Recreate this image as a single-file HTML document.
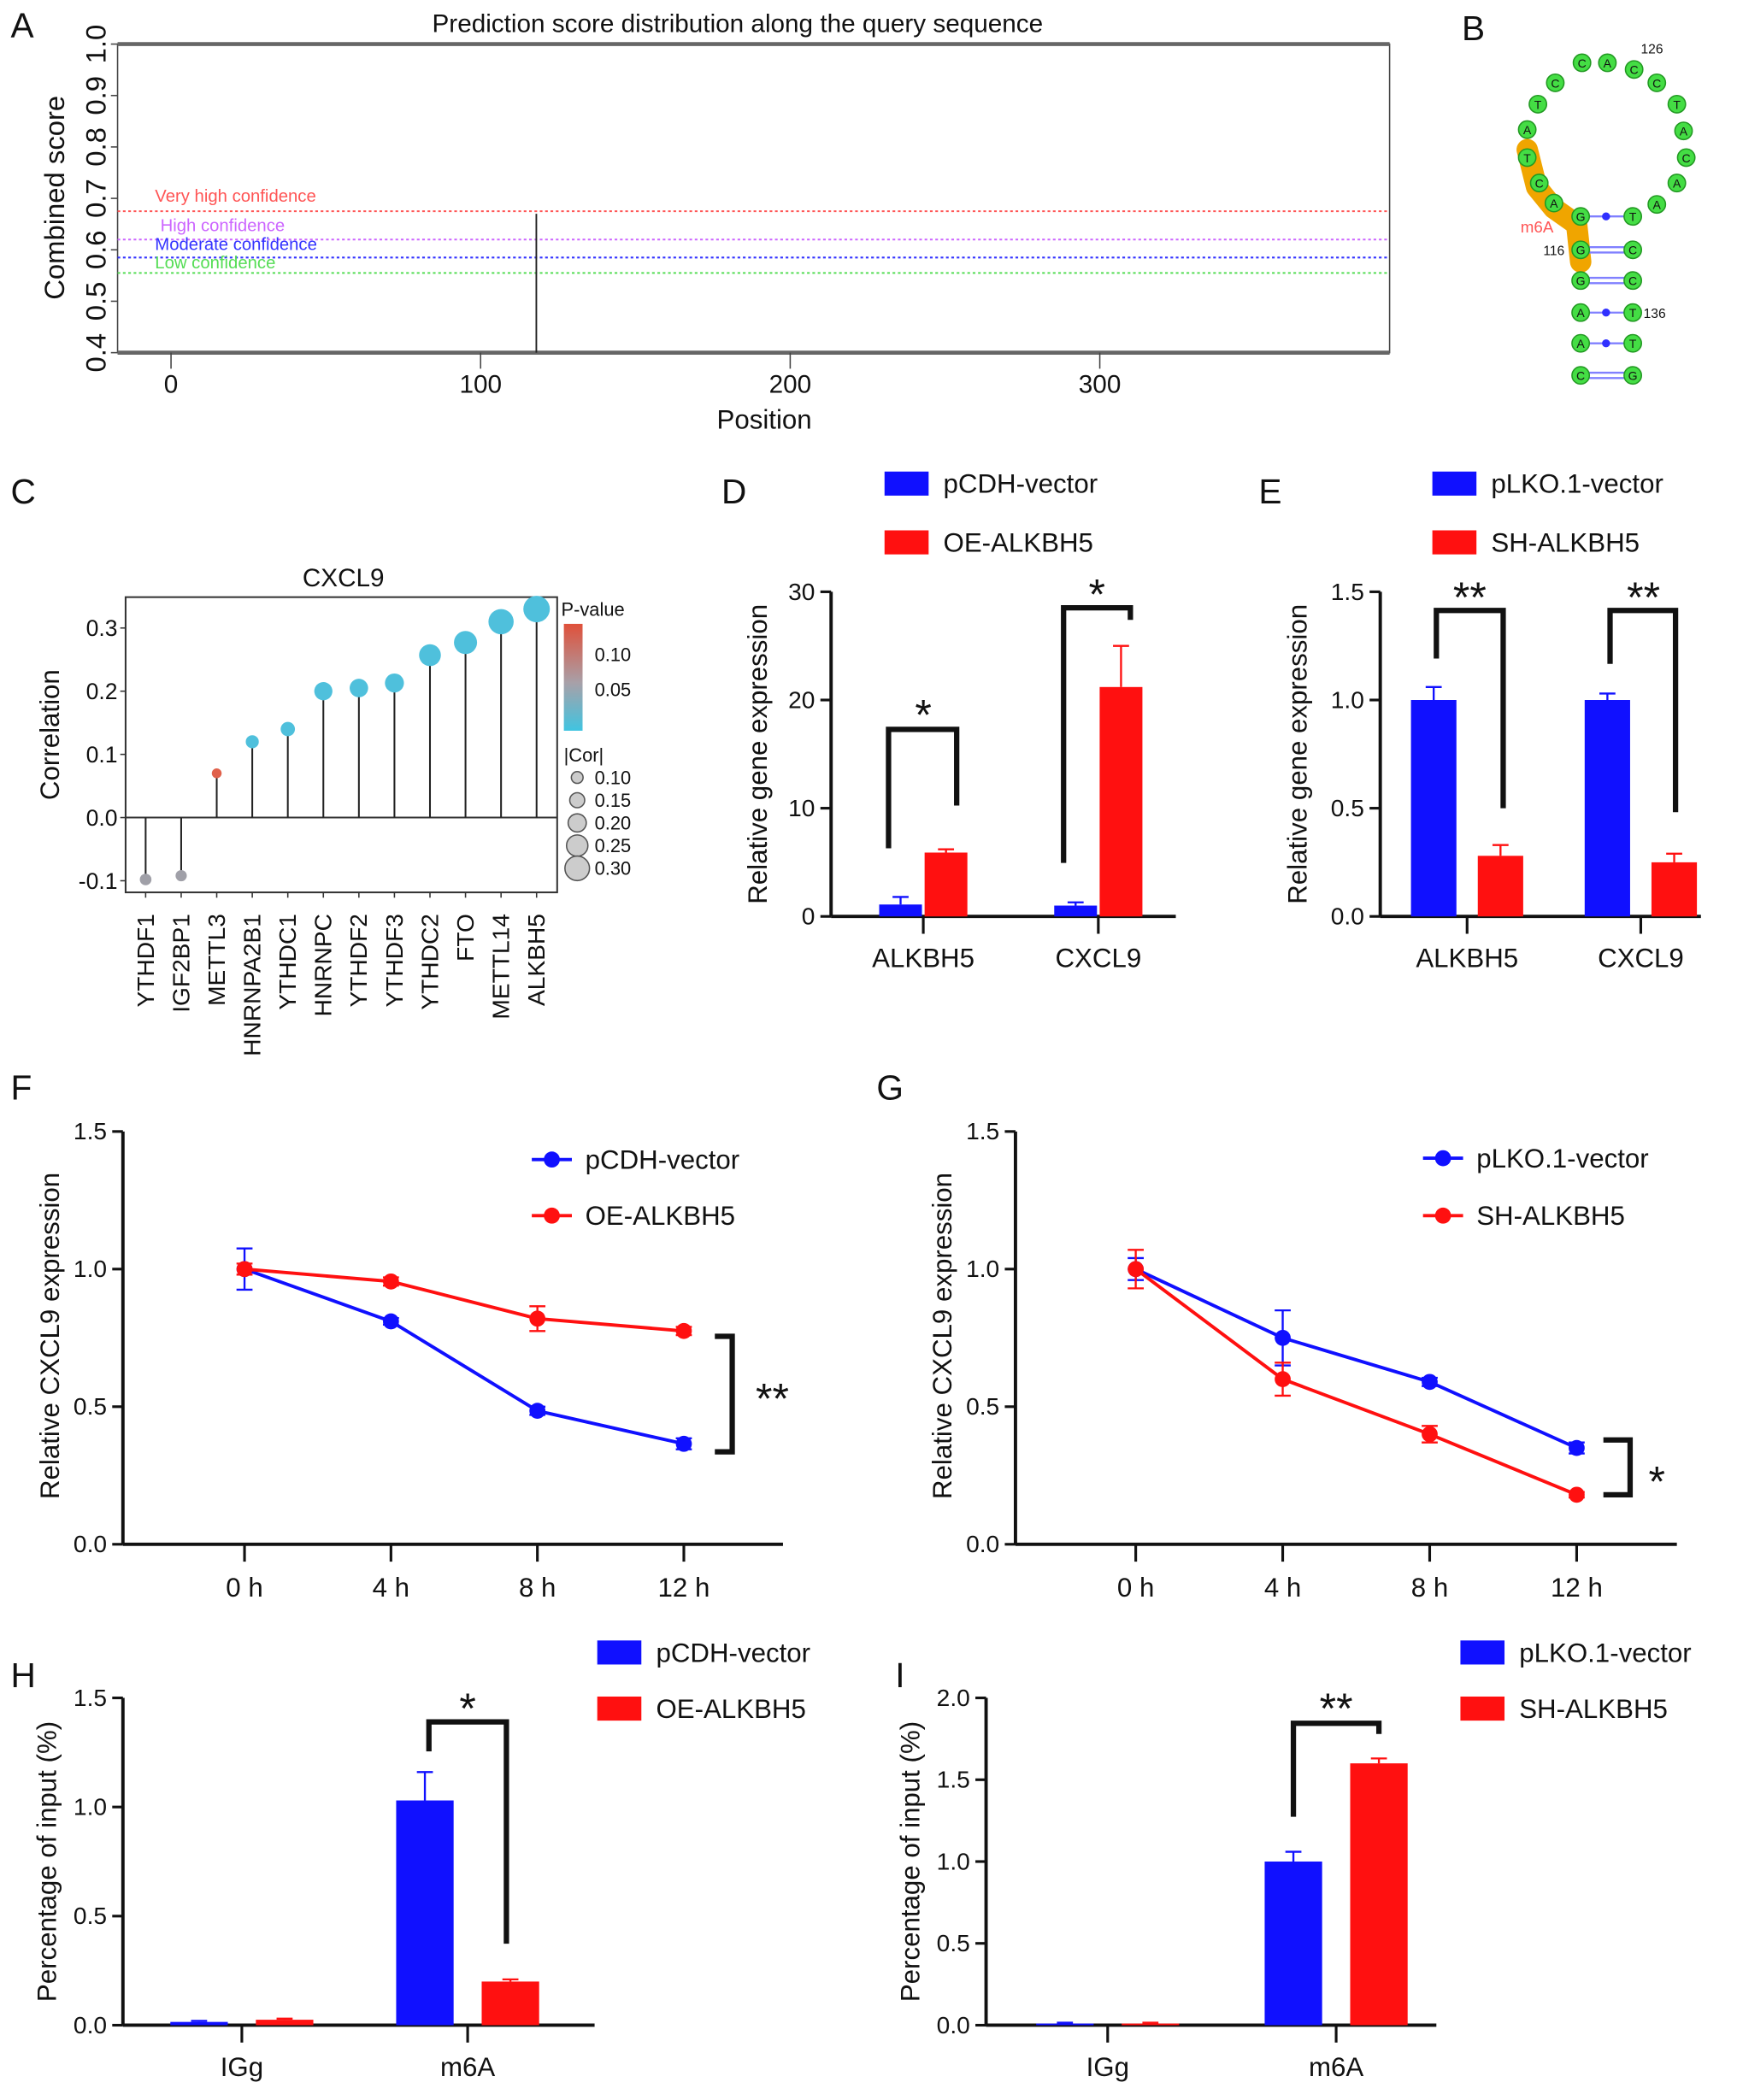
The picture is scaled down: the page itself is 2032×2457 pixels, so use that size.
<!DOCTYPE html>
<html><head><meta charset="utf-8"><style>
html,body{margin:0;padding:0;background:#fff;}
svg{display:block;font-family:"Liberation Sans",sans-serif;}
</style></head><body>
<svg id="fig" xmlns="http://www.w3.org/2000/svg" width="2032" height="2457" viewBox="0 0 1300 1572" preserveAspectRatio="none"></svg>
<script>
// ===== Data =====
const aThresholdNames = ['Very high confidence','High confidence','Moderate confidence','Low confidence'];
const aThresholdValues = [0.675, 0.62, 0.585, 0.555];
const aThresholdColors = ['#ff5555','#cc66ff','#3333ff','#55dd55'];
const aPeakPosition = [118];
const aPeakScore = [0.67];
const aXTicks = [0, 100, 200, 300];
const aYTicks = [0.4, 0.5, 0.6, 0.7, 0.8, 0.9, 1.0];

const cGenes = ['YTHDF1','IGF2BP1','METTL3','HNRNPA2B1','YTHDC1','HNRNPC','YTHDF2','YTHDF3','YTHDC2','FTO','METTL14','ALKBH5'];
const cCorr = [-0.098,-0.092,0.07,0.12,0.14,0.2,0.205,0.213,0.257,0.277,0.31,0.33];
const cPval = [0.06,0.07,0.13,0.01,0.01,0.0,0.0,0.0,0.0,0.0,0.0,0.0];
const cYTicks = [-0.1, 0.0, 0.1, 0.2, 0.3];
const cSizeLegend = [0.10, 0.15, 0.20, 0.25, 0.30];

const barCats = ['ALKBH5','CXCL9'];
const dBlue = [1.1, 1.0];
const dBlueErr = [1.8, 1.3];
const dRed = [5.9, 21.2];
const dRedErr = [6.2, 25.0];
const dTicks = [0, 10, 20, 30];

const eBlue = [1.0, 1.0];
const eBlueErr = [1.06, 1.03];
const eRed = [0.28, 0.25];
const eRedErr = [0.33, 0.29];
const eTicks = [0.0, 0.5, 1.0, 1.5];

const timeHours = [0, 4, 8, 12];
const timeLabels = ['0 h','4 h','8 h','12 h'];
const lineTicks = [0.0, 0.5, 1.0, 1.5];
const fBlue = [1.0, 0.81, 0.485, 0.365];
const fBlueErr = [0.075, 0.012, 0.015, 0.02];
const fRed = [1.0, 0.955, 0.82, 0.775];
const fRedErr = [0.02, 0.015, 0.045, 0.015];
const gBlue = [1.0, 0.75, 0.59, 0.35];
const gBlueErr = [0.04, 0.1, 0.015, 0.02];
const gRed = [1.0, 0.60, 0.40, 0.18];
const gRedErr = [0.07, 0.06, 0.03, 0.01];

const ripCats = ['IGg','m6A'];
const hBlue = [0.015, 1.03];
const hBlueErr = [0.02, 1.16];
const hRed = [0.025, 0.2];
const hRedErr = [0.03, 0.21];
const hTicks = [0.0, 0.5, 1.0, 1.5];
const iBlue = [0.01, 1.0];
const iBlueErr = [0.015, 1.06];
const iRed = [0.01, 1.6];
const iRedErr = [0.015, 1.63];
const iTicks = [0.0, 0.5, 1.0, 1.5, 2.0];

const BLUE = '#1010ff', RED = '#ff1010';
// ===== Helpers =====
const svg = document.getElementById('fig');
const NS = 'http://www.w3.org/2000/svg';
function mk(tag, attrs, name, parent, txt) {
  const el = document.createElementNS(NS, tag);
  for (const k in attrs) el.setAttribute(k, attrs[k]);
  
  
  if (txt !== undefined) el.textContent = txt;
  (parent || svg).appendChild(el);
  return el;
}
function line(x1,y1,x2,y2,stroke,w,name,extra){return mk('line',Object.assign({x1,y1,x2,y2,stroke,'stroke-width':w},extra||{}),name);}
function text(x,y,t,size,name,extra){return mk('text',Object.assign({x,y,'font-size':size,fill:'#111'},extra||{}),name,null,t);}
function fmt(v,d){return v.toFixed(d);}

// ===== Panel A =====
const axL=88, axR=1040, axT=33, axB=264;
const yA = v => axB - (v-0.4)/0.6*(axB-axT);
const xA = p => 128 + p*2.317;
text(8,28,'A',26,'panel-label-a');
text(552,24,'Prediction score distribution along the query sequence',19,'panel-a-title',{'text-anchor':'middle'});
mk('rect',{x:axL,y:axT,width:axR-axL,height:axB-axT,fill:'none',stroke:'#444','stroke-width':1},'panel-a-frame');
line(axL,axT,axR,axT,'#666',3,'panel-a-top-border');
line(axL,axB,axR,axB,'#666',3,'panel-a-bottom-border');
aYTicks.forEach(v=>{
  line(axL-5,yA(v),axL,yA(v),'#444',1,'a-y-tick');
  text(79,yA(v),fmt(v,1),21,'a-y-tick-label',{'text-anchor':'middle',transform:`rotate(-90 79 ${yA(v)})`});
});
text(48,148,'Combined score',21,'a-y-axis-title',{'text-anchor':'middle',transform:'rotate(-90 48 148)'});
aXTicks.forEach(v=>{
  line(xA(v),axB,xA(v),axB+12,'#444',1,'a-x-tick');
  text(xA(v),294,String(v),19,'a-x-tick-label',{'text-anchor':'middle'});
});
text(572,321,'Position',20,'a-x-axis-title',{'text-anchor':'middle'});
aThresholdValues.forEach((v,i)=>{
  line(axL,yA(v),axR,yA(v),aThresholdColors[i],1.3,'threshold-line-'+i,{'stroke-dasharray':'2 2'});
});
const aLabelY=[151,173,187,201];
aThresholdNames.forEach((n,i)=>text(i==1?120:116,aLabelY[i],n,13,'threshold-label-'+i,{fill:aThresholdColors[i]}));
aPeakPosition.forEach((p,i)=>line(xA(p),yA(aPeakScore[i]),xA(p),axB,'#222',1.2,'score-peak-line'));

// ===== Panel B =====
text(1094,30,'B',26,'panel-label-b');
mk('path',{d:'M1143,112 L1150,140 L1163,156 L1180,168 L1183,196',stroke:'#f0a500','stroke-width':16,fill:'none','stroke-linecap':'round','stroke-linejoin':'round'},'m6a-highlight');
const pairs=[[162,'G','T','dot'],[187,'G','C','dbl'],[210,'G','C','dbl'],[234,'A','T','dot'],[257,'A','T','dot'],[281,'C','G','dbl']];
pairs.forEach(p=>{
  if(p[3]=='dot'){line(1188,p[0],1217,p[0],'#8080ff',1.5,'base-pair-bond');mk('circle',{cx:1202,cy:p[0],r:3,fill:'#3030ff'},'base-pair-dot');}
  else{line(1188,p[0]-2,1217,p[0]-2,'#8080ff',1.5,'base-pair-bond');line(1188,p[0]+2,1217,p[0]+2,'#8080ff',1.5,'base-pair-bond');}
});
const nts=[[1143,97,'A'],[1143,118,'T'],[1152,137,'C'],[1163,152,'A'],[1151,78,'T'],[1164,62,'C'],[1184,47,'C'],[1203,47,'A'],[1223,52,'C'],[1240,62,'C'],[1255,78,'T'],[1260,98,'A'],[1262,118,'C'],[1255,137,'A'],[1240,153,'A']];
pairs.forEach(p=>{nts.push([1183,p[0],p[1]]);nts.push([1222,p[0],p[2]]);});
nts.forEach(n=>{
  mk('circle',{cx:n[0],cy:n[1],r:6.5,fill:'#44dd44',stroke:'#229922','stroke-width':1},'nucleotide');
  text(n[0],n[1]+3.5,n[2],9,'nucleotide-letter',{'text-anchor':'middle'});
});
text(1228,40,'126',10,'position-126');
text(1155,191,'116',10,'position-116');
text(1230,238,'136',10,'position-136');
text(1138,174,'m6A',12,'m6a-label',{fill:'#ff5555'});

// ===== Panel C =====
const cL=94,cR=417,cT=447,cB=668;
const yC = v => 612 - v*473;
const xC = i => 109 + i*26.6;
text(8,377,'C',26,'panel-label-c');
text(257,439,'CXCL9',19,'panel-c-title',{'text-anchor':'middle'});
mk('rect',{x:cL,y:cT,width:cR-cL,height:cB-cT,fill:'none',stroke:'#333','stroke-width':1.3},'panel-c-frame');
line(cL,yC(0),cR,yC(0),'#333',1.3,'zero-line');
cYTicks.forEach(v=>{
  line(cL-4,yC(v),cL,yC(v),'#333',1,'c-y-tick');
  text(cL-6,yC(v)+6,fmt(v,1),17,'c-y-tick-label',{'text-anchor':'end'});
});
text(44,550,'Correlation',20,'c-y-axis-title',{'text-anchor':'middle',transform:'rotate(-90 44 550)'});
function pColor(p){ if(p>0.1) return '#e0604a'; if(p>0.04) return '#a0a0a8'; return '#4fc0dc'; }
cGenes.forEach((g,i)=>{
  const r = 2 + Math.abs(cCorr[i])*24;
  line(xC(i),yC(0),xC(i),yC(cCorr[i]),'#222',1.3,'lollipop-stem');
  mk('circle',{cx:xC(i),cy:yC(cCorr[i]),r:r,fill:pColor(cPval[i])},'lollipop-'+g.toLowerCase());
  text(xC(i)+6,684,g,18,'c-x-tick-label',{'text-anchor':'end',transform:`rotate(-90 ${xC(i)+6} 684)`});
  line(xC(i),cB,xC(i),cB+4,'#333',1,'c-x-tick');
});
const grad=mk('defs',{},'gradient-defs');
const lg=mk('linearGradient',{id:'pg',x1:0,y1:0,x2:0,y2:1},'pvalue-gradient',grad);
mk('stop',{offset:'0','stop-color':'#e0503a'},'grad-stop',lg);
mk('stop',{offset:'0.55','stop-color':'#a8a0a8'},'grad-stop',lg);
mk('stop',{offset:'1','stop-color':'#40c4e0'},'grad-stop',lg);
text(420,461,'P-value',14,'pvalue-legend-title');
mk('rect',{x:422,y:467,width:14,height:80,fill:'url(#pg)'},'pvalue-colorbar');
text(445,495,'0.10',14,'pvalue-legend-label');
text(445,521,'0.05',14,'pvalue-legend-label');
text(422,570,'|Cor|',14,'cor-legend-title');
cSizeLegend.forEach((v,i)=>{
  mk('circle',{cx:432,cy:582+i*17,r:2+v*24,fill:'#ccc',stroke:'#555','stroke-width':1},'cor-size-key');
  text(445,587+i*17,fmt(v,2),14,'cor-legend-label');
});

// ===== Bar chart helper =====
function barPanel(o){
  const y = v => o.y0 - v/o.max*(o.y0-o.yTop);
  line(o.x0,o.y0,o.x0,o.yTop,'#111',2.5,o.id+'-y-axis');
  line(o.x0,o.y0,o.xEnd,o.y0,'#111',2.5,o.id+'-x-axis');
  o.ticks.forEach(v=>{
    line(o.x0-8,y(v),o.x0,y(v),'#111',2,o.id+'-y-tick');
    text(o.x0-12,y(v)+6,fmt(v,o.dec),18,o.id+'-y-tick-label',{'text-anchor':'end'});
  });
  text(o.titleX,(o.y0+o.yTop)/2,o.title,20,o.id+'-y-axis-title',{'text-anchor':'middle',transform:`rotate(-90 ${o.titleX} ${(o.y0+o.yTop)/2})`});
  o.cats.forEach((c,i)=>{
    const cx=o.catX[i];
    line(cx,o.y0,cx,o.y0+13,'#111',2,o.id+'-x-tick');
    text(cx,o.y0+38,c,20,o.id+'-x-tick-label',{'text-anchor':'middle'});
    [[o.blue,o.blueErr,BLUE,-o.off,'blue'],[o.red,o.redErr,RED,o.off,'red']].forEach(s=>{
      const bx=cx+s[3];
      mk('rect',{x:bx-o.w/2,y:y(s[0][i]),width:o.w,height:o.y0-y(s[0][i]),fill:s[2]},o.id+'-bar-'+s[4]+'-'+c.toLowerCase());
      if(s[1][i]>s[0][i]+0.001){
        line(bx,y(s[0][i]),bx,y(s[1][i]),s[2],1.5,o.id+'-error-bar');
        line(bx-6,y(s[1][i]),bx+6,y(s[1][i]),s[2],1.5,o.id+'-error-cap');
      }
    });
  });
  return y;
}
function bracket(x1,y1,yt,x2,y2,name){
  mk('path',{d:`M${x1},${y1} V${yt} H${x2} V${y2}`,stroke:'#111','stroke-width':4,fill:'none'},name);
}
function legendBar(x,y,label,color,name){
  mk('rect',{x:x,y:y-9,width:33,height:18,fill:color},name+'-swatch');
  text(x+44,y+7,label,20,name+'-label');
}

// ===== Panel D =====
text(540,377,'D',26,'panel-label-d');
legendBar(662,362,'pCDH-vector',BLUE,'d-legend-pcdh');
legendBar(662,406,'OE-ALKBH5',RED,'d-legend-oe');
barPanel({id:'d',x0:622,y0:686,yTop:443,max:30,ticks:dTicks,dec:0,xEnd:880,cats:barCats,catX:[691,822],off:17,w:32,blue:dBlue,blueErr:dBlueErr,red:dRed,redErr:dRedErr,title:'Relative gene expression',titleX:574});
bracket(665,635,546,716,603,'d-sig-bracket-alkbh5');
text(691,546,'*',32,'d-sig-star',{'text-anchor':'middle'});
bracket(796,646,455,846,464,'d-sig-bracket-cxcl9');
text(821,456,'*',32,'d-sig-star',{'text-anchor':'middle'});

// ===== Panel E =====
text(942,377,'E',26,'panel-label-e');
legendBar(1072,362,'pLKO.1-vector',BLUE,'e-legend-plko');
legendBar(1072,406,'SH-ALKBH5',RED,'e-legend-sh');
barPanel({id:'e',x0:1033,y0:686,yTop:443,max:1.5,ticks:eTicks,dec:1,xEnd:1273,cats:barCats,catX:[1098,1228],off:25,w:34,blue:eBlue,blueErr:eBlueErr,red:eRed,redErr:eRedErr,title:'Relative gene expression',titleX:978});
bracket(1075,493,457,1125,605,'e-sig-bracket-alkbh5');
text(1100,458,'**',32,'e-sig-stars',{'text-anchor':'middle'});
bracket(1205,497,457,1254,608,'e-sig-bracket-cxcl9');
text(1230,458,'**',32,'e-sig-stars',{'text-anchor':'middle'});

// ===== Line chart helper =====
function linePanel(o){
  const y = v => 1156 - v*206;
  const x = h => o.x0h + h*o.step;
  line(o.ax,1156,o.ax,847,'#111',2.5,o.id+'-y-axis');
  line(o.ax,1156,o.xEnd,1156,'#111',2.5,o.id+'-x-axis');
  lineTicks.forEach(v=>{
    line(o.ax-8,y(v),o.ax,y(v),'#111',2,o.id+'-y-tick');
    text(o.ax-12,y(v)+6,fmt(v,1),18,o.id+'-y-tick-label',{'text-anchor':'end'});
  });
  text(o.titleX,1000,'Relative CXCL9 expression',20,o.id+'-y-axis-title',{'text-anchor':'middle',transform:`rotate(-90 ${o.titleX} 1000)`});
  timeHours.forEach((h,i)=>{
    line(x(h),1156,x(h),1169,'#111',2,o.id+'-x-tick');
    text(x(h),1195,timeLabels[i],20,o.id+'-x-tick-label',{'text-anchor':'middle'});
  });
  [[o.blue,o.blueErr,BLUE,'blue'],[o.red,o.redErr,RED,'red']].forEach(s=>{
    const pts=timeHours.map((h,i)=>x(h)+','+y(s[0][i])).join(' ');
    mk('polyline',{points:pts,fill:'none',stroke:s[2],'stroke-width':2.5},o.id+'-line-'+s[3]);
    timeHours.forEach((h,i)=>{
      line(x(h),y(s[0][i]-s[1][i]),x(h),y(s[0][i]+s[1][i]),s[2],1.5,o.id+'-error-bar');
      line(x(h)-6,y(s[0][i]+s[1][i]),x(h)+6,y(s[0][i]+s[1][i]),s[2],1.5,o.id+'-error-cap');
      line(x(h)-6,y(s[0][i]-s[1][i]),x(h)+6,y(s[0][i]-s[1][i]),s[2],1.5,o.id+'-error-cap');
      mk('circle',{cx:x(h),cy:y(s[0][i]),r:6,fill:s[2]},o.id+'-point-'+s[3]);
    });
  });
  return {x,y};
}
function legendLine(x,y,label,color,name){
  line(x,y,x+30,y,color,2.5,name+'-line');
  mk('circle',{cx:x+15,cy:y,r:6,fill:color},name+'-marker');
  text(x+40,y+7,label,20,name+'-label');
}

// ===== Panel F =====
text(8,823,'F',26,'panel-label-f');
const F=linePanel({id:'f',ax:92,xEnd:586,x0h:183,step:27.4,blue:fBlue,blueErr:fBlueErr,red:fRed,redErr:fRedErr,titleX:44});
legendLine(398,868,'pCDH-vector',BLUE,'f-legend-pcdh');
legendLine(398,910,'OE-ALKBH5',RED,'f-legend-oe');
mk('path',{d:`M535,${F.y(fRed[3])+4} H548 V${F.y(fBlue[3])+6} H535`,stroke:'#111','stroke-width':4,fill:'none'},'f-sig-bracket');
text(578,1058,'**',32,'f-sig-stars',{'text-anchor':'middle'});

// ===== Panel G =====
text(656,823,'G',26,'panel-label-g');
const G=linePanel({id:'g',ax:760,xEnd:1255,x0h:850,step:27.5,blue:gBlue,blueErr:gBlueErr,red:gRed,redErr:gRedErr,titleX:712});
legendLine(1065,867,'pLKO.1-vector',BLUE,'g-legend-plko');
legendLine(1065,910,'SH-ALKBH5',RED,'g-legend-sh');
mk('path',{d:`M1200,${G.y(gBlue[3])-6} H1220 V${G.y(gRed[3])} H1200`,stroke:'#111','stroke-width':4,fill:'none'},'g-sig-bracket');
text(1240,1120,'*',32,'g-sig-star',{'text-anchor':'middle'});

// ===== Panel H =====
text(8,1263,'H',26,'panel-label-h');
legendBar(447,1237,'pCDH-vector',BLUE,'h-legend-pcdh');
legendBar(447,1279,'OE-ALKBH5',RED,'h-legend-oe');
barPanel({id:'h',x0:92,y0:1516,yTop:1271,max:1.5,ticks:hTicks,dec:1,xEnd:445,cats:ripCats,catX:[181,350],off:32,w:43,blue:hBlue,blueErr:hBlueErr,red:hRed,redErr:hRedErr,title:'Percentage of input (%)',titleX:42});
bracket(321,1311,1289,379,1455,'h-sig-bracket');
text(350,1290,'*',32,'h-sig-star',{'text-anchor':'middle'});

// ===== Panel I =====
text(670,1263,'I',26,'panel-label-i');
legendBar(1093,1237,'pLKO.1-vector',BLUE,'i-legend-plko');
legendBar(1093,1279,'SH-ALKBH5',RED,'i-legend-sh');
barPanel({id:'i',x0:738,y0:1516,yTop:1271,max:2.0,ticks:iTicks,dec:1,xEnd:1075,cats:ripCats,catX:[829,1000],off:32,w:43,blue:iBlue,blueErr:iBlueErr,red:iRed,redErr:iRedErr,title:'Percentage of input (%)',titleX:688});
bracket(968,1360,1290,1032,1298,'i-sig-bracket');
text(1000,1290,'**',32,'i-sig-stars',{'text-anchor':'middle'});
</script>
</body></html>
